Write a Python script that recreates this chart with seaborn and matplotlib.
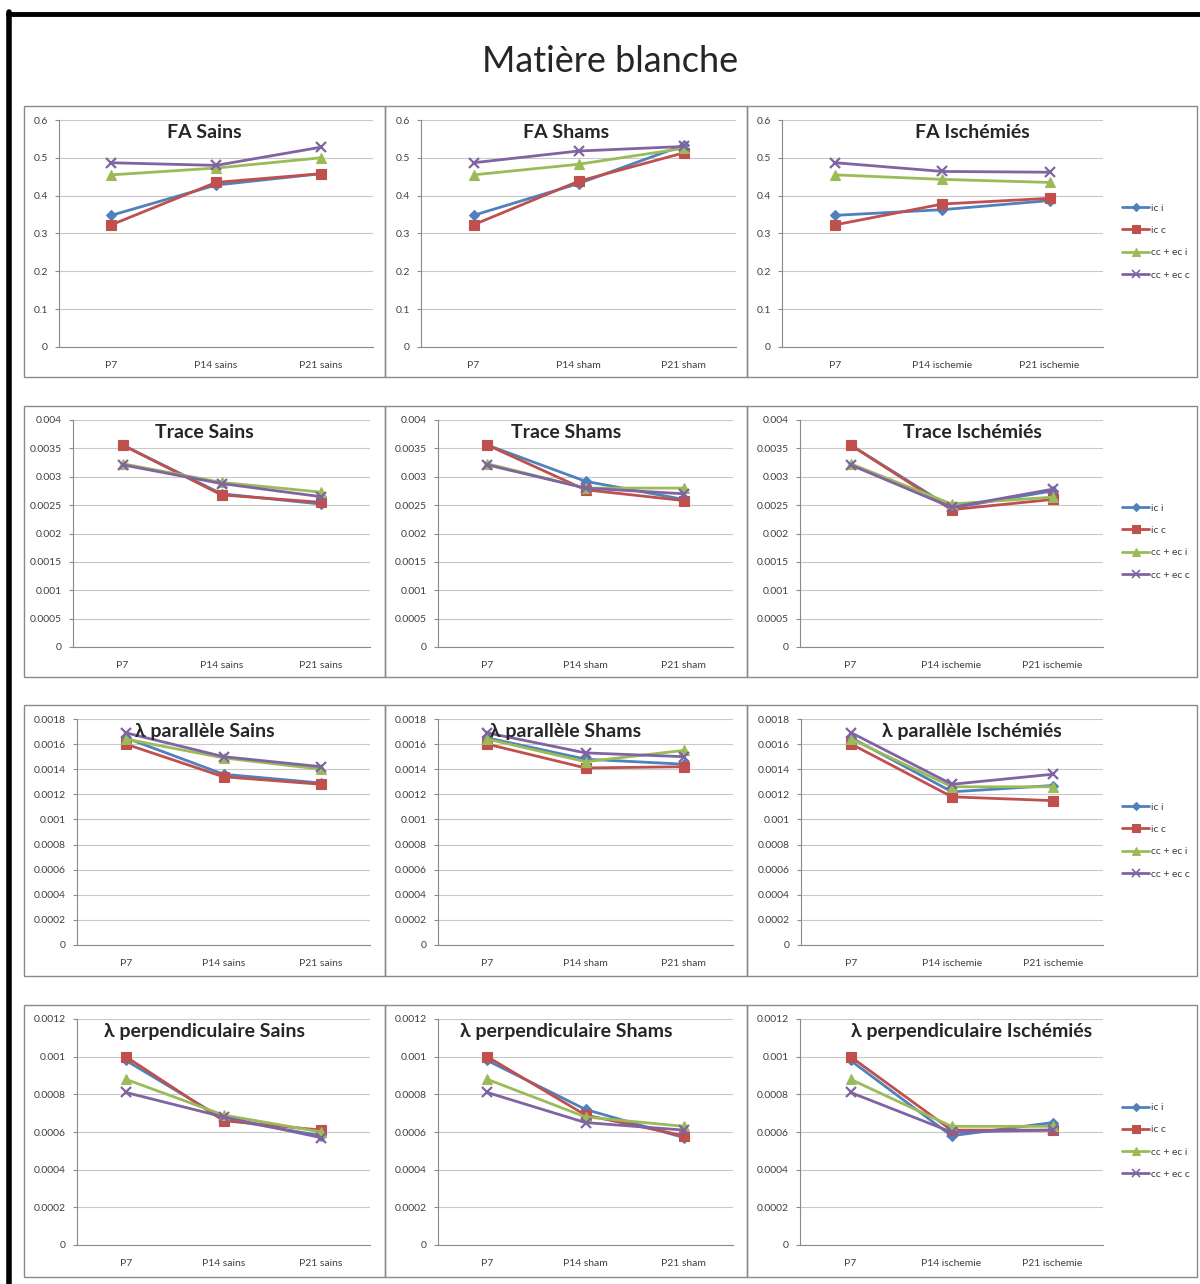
import matplotlib
matplotlib.use("Agg")
import matplotlib.pyplot as plt
from matplotlib.lines import Line2D
from matplotlib.patches import Rectangle
from matplotlib.ticker import FuncFormatter, MultipleLocator
import pandas as pd
import seaborn as sns

series = ["ic i", "ic c", "cc + ec i", "cc + ec c"]
groups = ["Sains", "Shams", "Ischémiés"]
x_labels = [
    ["P7", "P14 sains", "P21 sains"],
    ["P7", "P14 sham", "P21 sham"],
    ["P7", "P14 ischemie", "P21 ischemie"],
]

# one list per series: P7, P14, P21
fa_sains = [[0.348, 0.428, 0.458], [0.323, 0.435, 0.458], [0.455, 0.473, 0.500], [0.487, 0.480, 0.528]]
fa_shams = [[0.348, 0.432, 0.533], [0.323, 0.438, 0.513], [0.455, 0.483, 0.525], [0.487, 0.518, 0.530]]
fa_isch = [[0.348, 0.363, 0.387], [0.323, 0.378, 0.393], [0.455, 0.443, 0.435], [0.487, 0.464, 0.462]]

trace_sains = [[0.00356, 0.00270, 0.00252], [0.00356, 0.00268, 0.00255], [0.00323, 0.00290, 0.00273], [0.00321, 0.00288, 0.00265]]
trace_shams = [[0.00356, 0.00292, 0.00260], [0.00356, 0.00277, 0.00258], [0.00323, 0.00280, 0.00280], [0.00321, 0.00280, 0.00270]]
trace_isch = [[0.00356, 0.00245, 0.00275], [0.00356, 0.00242, 0.00260], [0.00323, 0.00252, 0.00264], [0.00321, 0.00246, 0.00278]]

par_sains = [[0.00165, 0.00136, 0.00129], [0.00160, 0.00134, 0.00128], [0.00164, 0.00149, 0.00140], [0.00169, 0.00150, 0.00142]]
par_shams = [[0.00165, 0.00148, 0.00144], [0.00160, 0.00141, 0.00142], [0.00164, 0.00146, 0.00155], [0.00169, 0.00153, 0.00150]]
par_isch = [[0.00165, 0.00122, 0.00127], [0.00160, 0.00118, 0.00115], [0.00164, 0.00126, 0.00126], [0.00169, 0.00128, 0.00136]]

perp_sains = [[0.00098, 0.00067, 0.00058], [0.00100, 0.00066, 0.00061], [0.00088, 0.00069, 0.00060], [0.00081, 0.00068, 0.00057]]
perp_shams = [[0.00098, 0.00072, 0.00057], [0.00100, 0.00069, 0.00058], [0.00088, 0.00068, 0.00063], [0.00081, 0.00065, 0.00061]]
perp_isch = [[0.00098, 0.00058, 0.00065], [0.00100, 0.00061, 0.00061], [0.00088, 0.00063, 0.00063], [0.00081, 0.00060, 0.00061]]

measures = ["FA", "Trace", "λ parallèle", "λ perpendiculaire"]
measure_data = [
    [fa_sains, fa_shams, fa_isch],
    [trace_sains, trace_shams, trace_isch],
    [par_sains, par_shams, par_isch],
    [perp_sains, perp_shams, perp_isch],
]
y_max = [0.6, 0.004, 0.0018, 0.0012]
y_step = [0.1, 0.0005, 0.0002, 0.0002]

colors = {"ic i": "#4F81BD", "ic c": "#C0504D", "cc + ec i": "#9BBB59", "cc + ec c": "#8064A2"}
# seaborn refuses mixing filled and line markers, so "X" is swapped for "x" afterwards
sns_markers = {"ic i": "D", "ic c": "s", "cc + ec i": "^", "cc + ec c": "X"}
markers = {"ic i": "D", "ic c": "s", "cc + ec i": "^", "cc + ec c": "x"}
msize = {"ic i": 5, "ic c": 7.5, "cc + ec i": 7, "cc + ec c": 7.5}

W, H = 1200, 1284
sns.set_style("white")
plt.rcParams["font.family"] = ["Lato", "DejaVu Sans"]

fig = plt.figure(figsize=(12, 12.84), dpi=100)
fig.patch.set_facecolor("white")

# pixel layout
row_box = [(106, 377), (406, 677), (705, 976), (1005, 1277)]
col_box = [(24, 385), (385, 747), (747, 1197)]
row_plot = [(120, 347), (420, 647), (719, 945), (1019, 1245)]
col_plot = [
    [(59, 373), (421, 736), (782, 1103)],
    [(73, 370), (438, 733), (800, 1103)],
    [(77, 370), (438, 733), (801, 1103)],
    [(77, 370), (438, 733), (800, 1103)],
]

# black frame: only top and left edges are visible in the picture
fig.add_artist(Line2D([8 / W, 1.0], [1 - 14 / H, 1 - 14 / H], transform=fig.transFigure,
                      color="black", linewidth=3.5))
fig.add_artist(Line2D([9 / W, 9 / W], [0.0, 1 - 12 / H], transform=fig.transFigure,
                      color="black", linewidth=4))
fig.text(610 / W, 1 - 61 / H, "Matière blanche", ha="center", va="center", fontsize=26)

fmt = FuncFormatter(lambda v, p: "{:g}".format(round(v, 6)))

for r in range(4):
    by0, by1 = row_box[r]
    py0, py1 = row_plot[r]
    for c in range(3):
        bx0, bx1 = col_box[c]
        fig.patches.append(Rectangle((bx0 / W, 1 - by1 / H), (bx1 - bx0) / W, (by1 - by0) / H,
                                     transform=fig.transFigure, fill=False,
                                     edgecolor="#8a8a8a", linewidth=1.0))
        px0, px1 = col_plot[r][c]
        ax = fig.add_axes([px0 / W, 1 - py1 / H, (px1 - px0) / W, (py1 - py0) / H])

        rows = []
        for s, vals in zip(series, measure_data[r][c]):
            for i, v in enumerate(vals):
                rows.append({"series": s, "pos": i, "value": v})
        df = pd.DataFrame(rows)

        sns.lineplot(data=df, x="pos", y="value", hue="series", style="series",
                     hue_order=series, style_order=series, palette=colors,
                     markers=sns_markers, dashes=False, linewidth=2, legend=False, ax=ax)
        for line, s in zip(ax.get_lines(), series):
            line.set_marker(markers[s])
            line.set_markersize(msize[s])
            line.set_markeredgecolor(colors[s])
            line.set_markerfacecolor(colors[s])
            line.set_markeredgewidth(1.6 if s == "cc + ec c" else 0.8)

        ax.set_xlim(-0.5, 2.5)
        ax.set_ylim(0, y_max[r])
        ax.yaxis.set_major_locator(MultipleLocator(y_step[r]))
        ax.yaxis.set_major_formatter(fmt)
        ax.set_xticks([0, 1, 2])
        ax.set_xticklabels(x_labels[c])
        ax.set_xticks([-0.5, 0.5, 1.5, 2.5], minor=True)
        ax.tick_params(axis="x", which="major", length=0, pad=10, labelsize=7.5, labelcolor="#404040")
        ax.tick_params(axis="x", which="minor", length=4, color="#8a8a8a", direction="out")
        ax.tick_params(axis="y", length=3, color="#8a8a8a", direction="out", pad=5,
                       labelsize=7.5, labelcolor="#404040", left=True)
        ax.set_xlabel("")
        ax.set_ylabel("")
        ax.yaxis.grid(True, color="#c8c8c8", linewidth=0.8)
        ax.set_axisbelow(True)
        for side in ["top", "right"]:
            ax.spines[side].set_visible(False)
        for side in ["left", "bottom"]:
            ax.spines[side].set_color("#8a8a8a")
            ax.spines[side].set_linewidth(0.8)
        ax.set_facecolor("none")

        fig.text((bx0 + bx1) / 2 / W, 1 - (by0 + 26) / H, measures[r] + " " + groups[c],
                 ha="center", va="center", fontsize=14, fontweight="bold")

        if c == 2:
            handles = [Line2D([], [], color=colors[s], marker=markers[s], linewidth=2,
                              markersize=msize[s] * 0.75, markeredgecolor=colors[s],
                              markeredgewidth=1.2 if s == "cc + ec c" else 0.8)
                       for s in series]
            ax.legend(handles, series, loc="center left",
                      bbox_to_anchor=((1118 - px0) / (px1 - px0),
                                      (py1 - (by0 + by1) / 2) / (py1 - py0)),
                      frameon=False, fontsize=7.5, handlelength=2.6, handletextpad=0.2,
                      labelspacing=1.25, borderaxespad=0, labelcolor="#404040")

fig.savefig("out.png", dpi=100, facecolor="white")
